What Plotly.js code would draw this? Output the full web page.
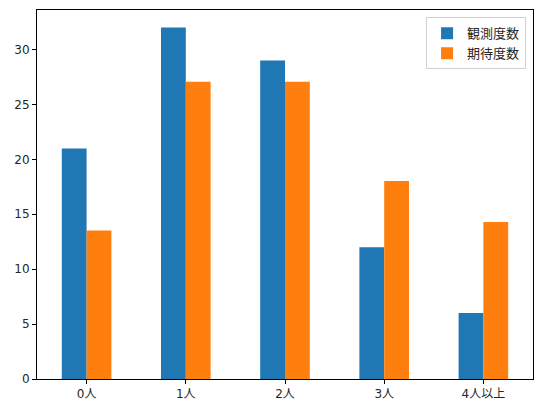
<!DOCTYPE html>
<html><head><meta charset="utf-8">
<script src="https://cdn.plot.ly/plotly-3.0.1.min.js"></script>
<style>html,body{margin:0;padding:0;background:#fff}#chart{width:542px;height:413px}</style>
</head><body><div id="chart"></div>
<script>
const categories = ["0人", "1人", "2人", "3人", "4人以上"];
const observed = [21, 32, 29, 12, 6];
const expected = [13.53, 27.07, 27.07, 18.04, 14.29];
const seriesNames = ["観測度数", "期待度数"];
const yTicks = [0, 5, 10, 15, 20, 25, 30];

const font = {family: "DejaVu Sans, Noto Sans CJK JP, sans-serif", size: 12, color: "#262626"};
const data = [
  {type: "bar", x: categories, y: observed, name: seriesNames[0], marker: {color: "#1f77b4"}, width: 0.25, offset: -0.25},
  {type: "bar", x: categories, y: expected, name: seriesNames[1], marker: {color: "#ff7f0e"}, width: 0.25, offset: 0}
];
const layout = {
  width: 542, height: 413,
  margin: {l: 37, r: 9, t: 10, b: 34},
  paper_bgcolor: "#fff", plot_bgcolor: "#fff",
  font: font,
  barmode: "group",
  showlegend: true,
  xaxis: {range: [-0.5, 4.5], showline: true, mirror: true, linecolor: "#000", linewidth: 1,
          ticks: "outside", ticklen: 4, tickcolor: "#000", showgrid: false, zeroline: false,
          tickfont: font, fixedrange: true},
  yaxis: {range: [0, 33.6], tickvals: yTicks, ticktext: yTicks.map(String), showline: true, mirror: true,
          linecolor: "#000", linewidth: 1, ticks: "outside", ticklen: 4, tickcolor: "#000",
          showgrid: false, zeroline: false, tickfont: font, fixedrange: true},
  legend: {x: 0.986, y: 0.98, xanchor: "right", yanchor: "top", bgcolor: "rgba(255,255,255,0.8)",
           bordercolor: "#d0d0d0", borderwidth: 1, font: {family: "Noto Sans CJK JP, sans-serif", size: 13, color: "#262626"},
           traceorder: "normal"}
};
Plotly.newPlot("chart", data, layout, {displayModeBar: false, staticPlot: true});
</script></body></html>
